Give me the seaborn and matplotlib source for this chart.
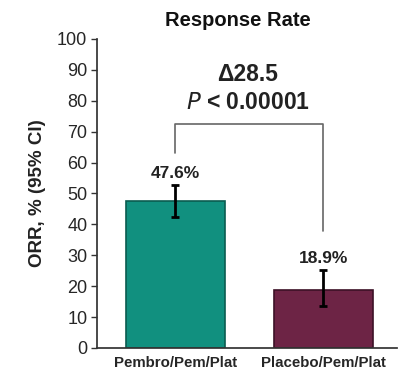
import matplotlib
matplotlib.use("Agg")
import matplotlib.pyplot as plt
import seaborn as sns
import pandas as pd
import numpy as np

categories = ["Pembro/Pem/Plat", "Placebo/Pem/Plat"]
orr = [47.6, 18.9]
ci_low = [42.3, 13.6]
ci_high = [52.6, 25.1]
value_labels = ["47.6%", "18.9%"]
delta_text = "Δ28.5"
p_text = "$\\bf{\\it{P}}$ < 0.00001"
bracket_top = 72.5
bracket_left_end = 63.0
bracket_right_end = 38.0
yticks = list(range(0, 101, 10))

sns.set_theme(style="white")
plt.rcParams['font.family'] = ['Liberation Sans', 'DejaVu Sans']
plt.rcParams['mathtext.fontset'] = 'custom'
plt.rcParams['mathtext.bfit'] = 'Liberation Sans:bold:italic'

df = pd.DataFrame({"arm": categories, "orr": orr})
colors = ["#11907f", "#6d2445"]
edges = ["#0a5c50", "#3c1126"]

fig = plt.figure(figsize=(4.11, 3.76), dpi=100)
ax = fig.add_axes([0.236, 0.0745, 0.730, 0.822])

sns.barplot(data=df, x="arm", y="orr", hue="arm", palette=colors, legend=False,
            width=0.67, ax=ax, errorbar=None, linewidth=1.2, saturation=1, zorder=2)
for patch, ec in zip(ax.patches, edges):
    patch.set_edgecolor(ec)

x = np.arange(len(categories))
yerr = [np.array(orr) - np.array(ci_low), np.array(ci_high) - np.array(orr)]
ax.errorbar(x, orr, yerr=yerr, fmt="none", ecolor="black", elinewidth=2,
            capsize=3, capthick=2, zorder=3)

for xi, lab, hi in zip(x, value_labels, ci_high):
    ax.text(xi, hi + 4, lab, ha="center", va="center", fontsize=12.5,
            fontweight="bold", color="#222222")

ax.plot([0, 0, 1, 1], [bracket_left_end, bracket_top, bracket_top, bracket_right_end],
        color="#666666", lw=1.2, zorder=1)
ax.text(0.49, 88.4, delta_text, ha="center", va="center", fontsize=16.5,
        fontweight="bold", color="#222222")
ax.text(0.49, 79.3, p_text, ha="center", va="center", fontsize=16.5,
        fontweight="bold", color="#222222")

ax.set_xlim(-0.53, 1.5)
ax.set_ylim(0, 100)
ax.set_yticks(yticks)
ax.set_yticklabels([str(t) for t in yticks], fontsize=13)
ax.tick_params(axis="y", length=4, width=1, color="#333333", left=True, pad=3)
ax.tick_params(axis="x", length=0, pad=6)
for lbl in ax.get_xticklabels():
    lbl.set_fontsize(10.8)
    lbl.set_fontweight("bold")
ax.set_xlabel("")
ax.set_ylabel("ORR, % (95% CI)", fontsize=13.5, fontweight="bold", color="#222222", labelpad=8)
ax.spines["top"].set_visible(False)
ax.spines["right"].set_visible(False)
ax.spines["left"].set_color("#333333")
ax.spines["bottom"].set_color("#333333")
ax.set_title("Response Rate", fontsize=14.5, fontweight="bold", color="#111111", pad=9, x=0.47)

fig.savefig("out.png", dpi=100)
